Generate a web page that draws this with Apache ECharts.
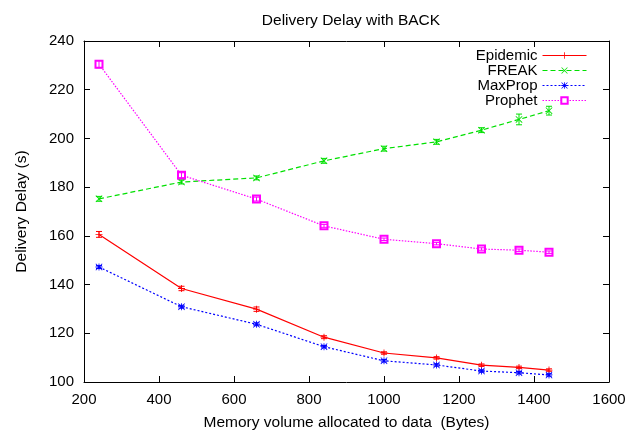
<!DOCTYPE html>
<html>
<head>
<meta charset="utf-8">
<script src="https://cdn.jsdelivr.net/npm/echarts@6/dist/echarts.min.js"></script>
<style>html,body{margin:0;padding:0;background:#fff}#c{width:626px;height:430px}</style>
</head>
<body>
<div id="c"></div>
<script>
const memory = [240, 460, 660, 840, 1000, 1140, 1260, 1360, 1440];
const epidemic = [160.6, 138.4, 129.9, 118.4, 111.9, 109.9, 106.9, 106.0, 104.9];
const freak = [175.2, 182.1, 183.8, 190.8, 195.8, 198.6, 203.4, 207.8, 211.4];
const maxprop = [147.2, 130.9, 123.7, 114.5, 108.7, 107.0, 104.5, 103.8, 102.9];
const prophet = [230.5, 184.9, 175.1, 164.1, 158.6, 156.8, 154.6, 154.1, 153.3];
const epidemicErr = [1.2, 0.9, 0.9, 0.6, 0.5, 0.5, 0.5, 0.5, 0.5];
const freakErr = [1.0, 0.8, 0.8, 1.0, 1.0, 1.0, 1.0, 2.2, 1.8];
const maxpropErr = [0.6, 0.6, 0.6, 0.5, 0.5, 0.5, 0.5, 0.5, 0.5];
const prophetErr = [1.5, 1.0, 0.8, 0.6, 0.5, 0.5, 0.5, 0.5, 0.5];
const seriesNames = ['Epidemic', 'FREAK', 'MaxProp', 'Prophet'];
const xTicks = [200, 400, 600, 800, 1000, 1200, 1400, 1600];
const yTicks = [100, 120, 140, 160, 180, 200, 220, 240];

const colors = ['#ff0000', '#00e000', '#0000ff', '#ff00ff'];
const plusSym = 'path://M4.4,0h1.2v10h-1.2z M0,4.4h10v1.2h-10z';
const xSym = 'path://M0,0.8L0.8,0L10,9.2L9.2,10Z M9.2,0L10,0.8L0.8,10L0,9.2Z';
const starSym = 'path://M4.4,0h1.2v10h-1.2z M0,4.4h10v1.2h-10z M0,0.8L0.8,0L10,9.2L9.2,10Z M9.2,0L10,0.8L0.8,10L0,9.2Z';

const font = 'Liberation Sans, Arial, sans-serif';

function mkLine(name, ys, color, type, sym, size) {
  return {
    name: name, type: 'line',
    data: memory.map((x, i) => [x, ys[i]]),
    symbol: sym, symbolSize: size, showAllSymbol: true,
    lineStyle: {color: color, width: 1.2, type: type},
    itemStyle: {color: color, borderColor: color, borderWidth: sym === 'emptyRect' ? 1.3 : 0},
    z: 3, animation: false
  };
}
function mkErr(name, ys, es, color) {
  return {
    name: name, type: 'custom',
    data: memory.map((x, i) => [x, ys[i] - es[i], ys[i] + es[i]]),
    encode: {x: 0, y: [1, 2]},
    renderItem: function (params, api) {
      const x = api.value(0);
      const p1 = api.coord([x, api.value(1)]);
      const p2 = api.coord([x, api.value(2)]);
      const st = {stroke: color, lineWidth: 1};
      return {type: 'group', children: [
        {type: 'line', shape: {x1: p1[0], y1: p1[1], x2: p2[0], y2: p2[1]}, style: st},
        {type: 'line', shape: {x1: p1[0] - 3, y1: p1[1], x2: p1[0] + 3, y2: p1[1]}, style: st},
        {type: 'line', shape: {x1: p2[0] - 3, y1: p2[1], x2: p2[0] + 3, y2: p2[1]}, style: st}
      ]};
    },
    z: 4, animation: false
  };
}

const chart = echarts.init(document.getElementById('c'), null, {renderer: 'canvas'});
const axisCommon = {
  axisLine: {show: true, onZero: false, lineStyle: {color: '#000', width: 1}},
  axisTick: {show: true, inside: true, length: 6, lineStyle: {color: '#000'}},
  splitLine: {show: false}
};
chart.setOption({
  backgroundColor: '#fff',
  animation: false,
  title: {text: 'Delivery Delay with BACK', left: 346, top: 8, textAlign: 'center',
    textStyle: {fontFamily: font, fontSize: 15.5, fontWeight: 'normal', color: '#000'}},
  grid: {left: 84, right: 17, top: 41, bottom: 48, containLabel: false, outerBoundsMode: 'none'},
  legend: {
    data: seriesNames, orient: 'vertical', right: 34, top: 43, align: 'right',
    itemWidth: 44, itemHeight: 8, itemGap: 0,
    lineStyle: {width: 1},
    textStyle: {fontFamily: font, fontSize: 15, color: '#000', lineHeight: 14}
  },
  xAxis: [
    Object.assign({type: 'value', min: 200, max: 1600, interval: 200, position: 'bottom',
      name: 'Memory volume allocated to data  (Bytes)', nameLocation: 'middle', nameGap: 33,
      nameTextStyle: {fontFamily: font, fontSize: 15.5, color: '#000'},
      axisLabel: {fontFamily: font, fontSize: 15, color: '#000', margin: 10,
        formatter: v => xTicks.includes(v) ? String(v) : ''}}, axisCommon),
    Object.assign({type: 'value', min: 200, max: 1600, interval: 200, position: 'top',
      axisLabel: {show: false}}, axisCommon)
  ],
  yAxis: [
    Object.assign({type: 'value', min: 100, max: 240, interval: 20, position: 'left',
      name: 'Delivery Delay (s)', nameLocation: 'middle', nameGap: 54, nameRotate: 90,
      nameTextStyle: {fontFamily: font, fontSize: 15.5, color: '#000'},
      axisLabel: {fontFamily: font, fontSize: 15, color: '#000', margin: 10,
        formatter: v => yTicks.includes(v) ? String(v) : ''}}, axisCommon),
    Object.assign({type: 'value', min: 100, max: 240, interval: 20, position: 'right',
      axisLabel: {show: false}}, axisCommon)
  ],
  series: [
    mkLine('Epidemic', epidemic, colors[0], 'solid', plusSym, 7),
    mkLine('FREAK', freak, colors[1], [5, 3], xSym, 7),
    mkLine('MaxProp', maxprop, colors[2], [2, 2], starSym, 7),
    mkLine('Prophet', prophet, colors[3], [1.5, 1.5], 'emptyRect', 7),
    mkErr('Epidemic', epidemic, epidemicErr, colors[0]),
    mkErr('FREAK', freak, freakErr, colors[1]),
    mkErr('MaxProp', maxprop, maxpropErr, colors[2]),
    mkErr('Prophet', prophet, prophetErr, colors[3])
  ]
});
</script>
</body>
</html>
